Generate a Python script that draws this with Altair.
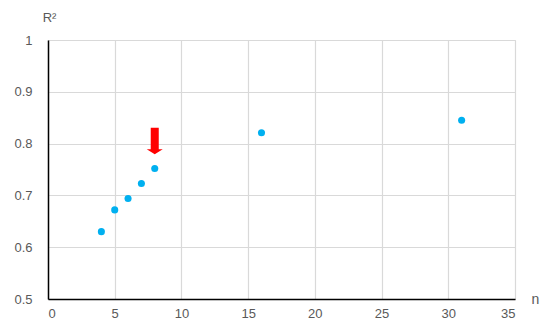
import altair as alt
import pandas as pd

n_values = [4, 5, 6, 7, 8, 16, 31]
r2_values = [0.630, 0.672, 0.694, 0.723, 0.752, 0.821, 0.845]

arrow_n = [8]
arrow_r2 = [0.805]

points = pd.DataFrame({"n": n_values, "r2": r2_values})
arrow = pd.DataFrame({"n": arrow_n, "r2": arrow_r2})

xscale = alt.Scale(domain=[0, 35], nice=False, zero=False)
yscale = alt.Scale(domain=[0.5, 1.0], nice=False, zero=False)

label_color = "#595959"
font = "Liberation Sans"

xaxis = alt.Axis(
    values=[0, 5, 10, 15, 20, 25, 30, 35],
    title="n",
    titleAngle=0,
    titleX=487,
    titleY=4,
    titleAlign="center",
    titleBaseline="alphabetic",
    titleFont=font,
    titleFontSize=14,
    titleFontWeight="normal",
    titleColor=label_color,
    labelFont=font,
    labelFontSize=13,
    labelColor=label_color,
    labelPadding=8,
    ticks=False,
    domainColor="#000000",
    domainWidth=1.5,
    grid=True,
    gridColor="#d9d9d9",
    gridWidth=1.2,
)
yaxis = alt.Axis(
    values=[0.5, 0.6, 0.7, 0.8, 0.9, 1.0],
    labelExpr="datum.value == 1 ? '1' : format(datum.value, '.1f')",
    title="R²",
    titleAngle=0,
    titleX=1,
    titleY=-19,
    titleAlign="center",
    titleBaseline="alphabetic",
    titleFont=font,
    titleFontSize=13,
    titleFontWeight="normal",
    titleColor=label_color,
    labelFont=font,
    labelFontSize=13,
    labelColor=label_color,
    labelPadding=16,
    ticks=False,
    domainColor="#000000",
    domainWidth=1.5,
    grid=True,
    gridColor="#d9d9d9",
    gridWidth=1.2,
)

pts = alt.Chart(points).mark_circle(size=50, color="#00b0f0", opacity=1).encode(
    x=alt.X("n:Q", scale=xscale, axis=xaxis),
    y=alt.Y("r2:Q", scale=yscale, axis=yaxis),
)

arrow_shape = "M-0.3,-1L0.3,-1L0.3,0.62L0.6,0.62L0,1L-0.6,0.62L-0.3,0.62Z"
arr = alt.Chart(arrow).mark_point(
    shape=arrow_shape, size=713, filled=True, color="#ff0000", opacity=1, strokeWidth=0
).encode(
    x=alt.X("n:Q", scale=xscale),
    y=alt.Y("r2:Q", scale=yscale),
)

chart = (
    alt.layer(pts, arr)
    .properties(
        width=467,
        height=259,
        autosize=alt.AutoSizeParams(type="none"),
        padding={"left": 40, "top": 32, "right": 25, "bottom": 23},
    )
    .configure_view(stroke=None)
    .configure(background="#ffffff")
)

chart.save("out.html", embed_options={"renderer": "svg", "actions": False})
